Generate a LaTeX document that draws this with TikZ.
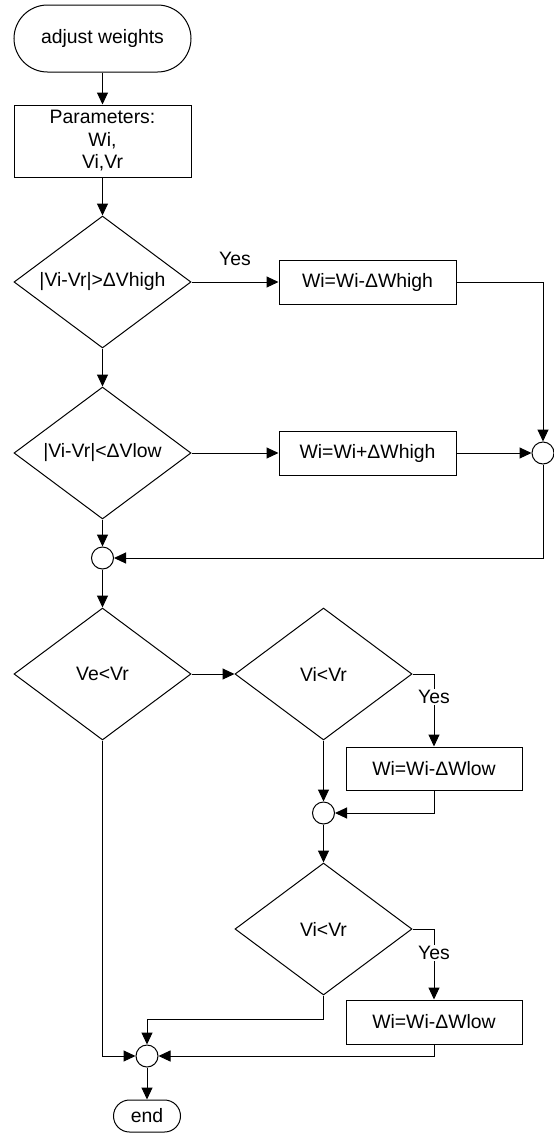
\documentclass[tikz,border=0pt]{standalone}
\usepackage{fontspec}
\setmainfont{Liberation Sans}
\usetikzlibrary{shapes.geometric,arrows.meta}
\begin{document}
\begin{tikzpicture}[x=1pt,y=-1pt,
  every node/.style={font=\fontsize{19.4}{22.5}\selectfont},
  line width=1pt,
  term/.style={draw, rectangle, inner sep=0pt},
  proc/.style={draw, rectangle, inner sep=0pt, minimum width=177pt, minimum height=44pt},
  cond/.style={draw, diamond, inner sep=0pt, aspect=1.34, minimum width=177pt, minimum height=132pt},
  junc/.style={draw, circle, inner sep=0pt, minimum size=22pt},
  arr/.style={-{Triangle[length=12pt,width=11pt]}},
  yeslab/.style={fill=white, inner sep=1.5pt}
]
\useasboundingbox (0,0) rectangle (554,1133);

\node[term, minimum width=177pt, minimum height=67pt, rounded corners=33.5pt] (start) at (102.5,38.5) {adjust weights};
\node[term, minimum width=177pt, minimum height=72pt, align=center] (params) at (102.5,141) {Parameters:\\Wi,\\Vi,Vr};
\node[cond] (d1) at (102.5,282) {|Vi-Vr|>ΔVhigh};
\node[proc] (b1) at (367.5,282) {Wi=Wi-ΔWhigh};
\node[cond] (d2) at (102.5,453) {|Vi-Vr|<ΔVlow};
\node[proc] (b2) at (367.5,453) {Wi=Wi+ΔWhigh};
\node[junc] (c1) at (543,453) {};
\node[junc] (c2) at (102.5,558) {};
\node[cond] (d3) at (102.5,674) {Ve<Vr};
\node[cond] (d4) at (323.5,674) {Vi<Vr};
\node[proc, minimum width=176pt, minimum height=43pt] (b3) at (434,768.5) {Wi=Wi-ΔWlow};
\node[junc] (c3) at (323.5,813) {};
\node[cond] (d5) at (323.5,929) {Vi<Vr};
\node[proc, minimum width=176pt, minimum height=44pt] (b4) at (434,1022) {Wi=Wi-ΔWlow};
\node[junc] (c4) at (147,1056) {};
\node[term, minimum width=67pt, minimum height=32pt, rounded corners=16pt] (end) at (147,1116) {end};

\draw[arr] (start.south) -- (params.north);
\draw[arr] (params.south) -- (d1.north);
\draw[arr] (d1.east) -- node[midway, yshift=23pt]{Yes} (b1.west);
\draw[arr] (d1.south) -- (d2.north);
\draw[arr] (d2.east) -- (b2.west);
\draw[arr] (b1.east) -| (c1.north);
\draw[arr] (b2.east) -- (c1.west);
\draw[arr] (c1.south) |- (c2.east);
\draw[arr] (d2.south) -- (c2.north);
\draw[arr] (c2.south) -- (d3.north);
\draw[arr] (d3.east) -- (d4.west);
\draw[arr] (d4.east) -| node[yeslab, pos=0.66]{Yes} (b3.north);
\draw[arr] (d4.south) -- (c3.north);
\draw[arr] (b3.south) |- (c3.east);
\draw[arr] (c3.south) -- (d5.north);
\draw[arr] (d5.east) -| node[yeslab, pos=0.67]{Yes} (b4.north);
\draw[arr] (d5.south) -- ++(0,24) -| (c4.north);
\draw[arr] (d3.south) |- (c4.west);
\draw[arr] (b4.south) |- (c4.east);
\draw[arr] (c4.south) -- (end.north);
\end{tikzpicture}
\end{document}
